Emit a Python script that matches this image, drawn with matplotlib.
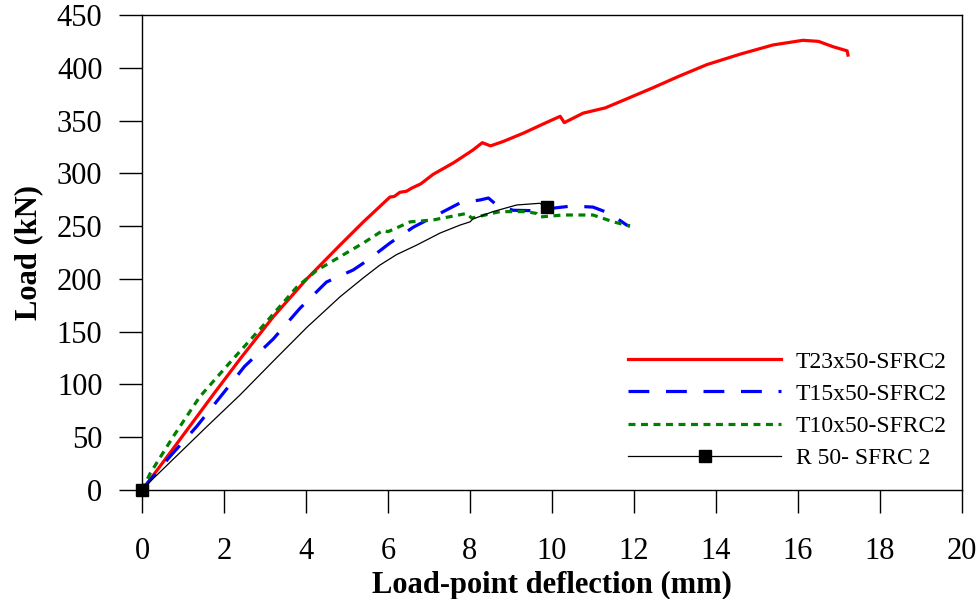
import numpy as np
import matplotlib
matplotlib.use('Agg')
import matplotlib.pyplot as plt

# values (deflection mm, load kN)
t23_x = [0, 0.2, 0.91, 1.76, 2.39, 3.2, 4.02, 4.83, 5.4, 6.05, 6.15, 6.29, 6.45, 6.58, 6.8, 7.1, 7.6, 8.07, 8.3, 8.5, 8.8, 9.3, 9.8, 10.2, 10.3, 10.76, 11.3, 11.73, 12.46, 13.1, 13.78, 14.6, 15.39, 16.12, 16.5, 16.85, 17.2, 17.22]
t23_y = [0, 10, 47, 91.6, 124, 164, 200, 232, 254, 277.6, 278, 282, 283, 286, 290, 299, 310, 322, 329, 326, 330, 338, 347, 354, 348, 357, 362, 369, 381, 392, 403, 413, 421.6, 426, 425, 420, 416, 412]

t15_x = [0, 0.2, 0.68, 1.33, 1.98, 2.5, 3.2, 3.85, 4.5, 5.15, 5.48, 6.05, 6.62, 7.35, 7.76, 8.24, 8.45, 8.65, 9.05, 9.54, 10.03, 10.48, 11.0, 11.41, 11.82, 11.9]
t15_y = [0, 9.5, 31.6, 60, 91.6, 117, 143, 172, 197, 208.4, 217, 234, 249, 263.7, 272, 274.7, 276.6, 270, 265, 264.6, 267, 269, 268, 262, 251, 250]

t10_x = [0, 0.2, 0.76, 1.41, 2.15, 2.96, 3.77, 4.26, 4.83, 5.4, 5.88, 6.0, 6.54, 7.1, 7.92, 8.04, 8.73, 9.38, 9.62, 9.7, 10.27, 11.0, 11.5, 11.9]
t10_y = [0, 15.8, 50.5, 88.4, 121, 156, 192, 208, 221, 234, 246, 244.7, 254, 255.8, 262, 257.6, 263.7, 263.7, 262, 258.6, 260.5, 260.5, 254, 250]

r50_x = [0, 0.2, 1.58, 2.39, 3.2, 4.02, 4.83, 5.4, 5.8, 6.21, 6.7, 7.27, 7.76, 8.0, 8.07, 8.56, 9.14, 9.7, 9.88]
r50_y = [0, 8, 60, 90, 122, 154, 183, 201, 213, 223, 232, 243.4, 251, 254, 256.7, 263.7, 270, 271.6, 268]

labels = ['T23x50-SFRC2', 'T15x50-SFRC2', 'T10x50-SFRC2', 'R 50- SFRC 2']

plt.rcParams['font.family'] = 'Liberation Serif'
plt.rcParams['lines.scale_dashes'] = False

fig = plt.figure(figsize=(9.78, 5.99), dpi=100)
ax = fig.add_axes([0.1452, 0.182, 0.8384, 0.793])

ax.plot(t23_x, t23_y, color='#ff0000', lw=2.3, label=labels[0])
ax.plot(t15_x, t15_y, color='#0000ff', lw=2.3, dashes=(15, 12), label=labels[1])
ax.plot(t10_x, t10_y, color='#008000', lw=2.3, dashes=(5, 4), label=labels[2])
ax.plot(r50_x, r50_y, color='black', lw=0.9, marker='s', markersize=9,
        markevery=[0, len(r50_x) - 1], label=labels[3], clip_on=False, zorder=5)

ax.set_xlim(0, 20)
ax.set_ylim(0, 450)
ax.set_xticks(np.arange(0, 21, 2))
ax.set_yticks(np.arange(0, 451, 50))
ax.tick_params(direction='out', length=16.5, width=1, labelsize=22, pad=12)
ax.tick_params(axis='x', pad=17)
ax.set_xlabel('Load-point deflection (mm)', fontsize=22, fontweight='bold', labelpad=4)
ax.set_ylabel('Load (kN)', fontsize=22, fontweight='bold', labelpad=10)
for s in ax.spines.values():
    s.set_linewidth(1)

ax.legend(loc='lower left', bbox_to_anchor=(0.642, 0.217), bbox_transform=fig.transFigure,
          frameon=False, fontsize=17, handlelength=6.5, handletextpad=0.6,
          labelspacing=0.45, borderpad=0, borderaxespad=0)

fig.savefig('out.png', dpi=100)
